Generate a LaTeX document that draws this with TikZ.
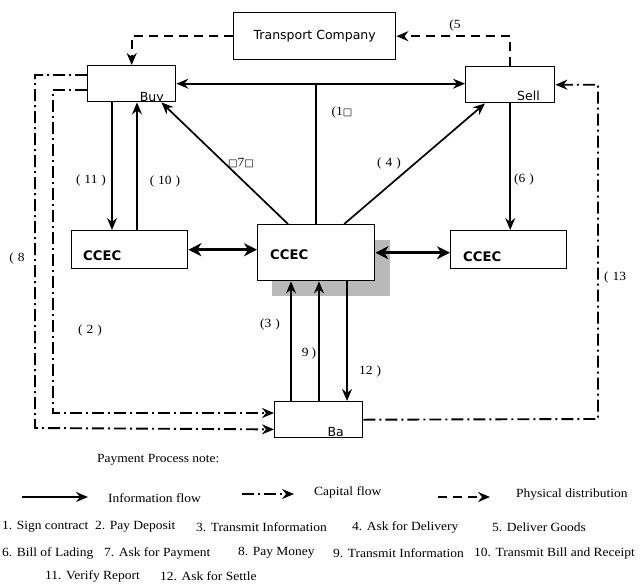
\documentclass[tikz,border=0pt]{standalone}
\usepackage{fontspec}
\setmainfont[FakeStretch=1.08]{Liberation Serif}
\newfontfamily\boxf{DejaVu Sans}
\usetikzlibrary{arrows.meta,calc}
\begin{document}
\begin{tikzpicture}[x=1pt,y=-1pt,
  box/.style={draw, line width=1.4pt, inner sep=0pt, anchor=north west, fill=white},
  boxtext/.style={font=\boxf\fontsize{12.5}{13}\selectfont, inner sep=0pt},
  ccectext/.style={font=\boxf\bfseries\fontsize{13.2}{13}\selectfont, inner sep=0pt, anchor=west},
  lbl/.style={font=\fontsize{12.5}{13}\selectfont, inner sep=0pt},
  note/.style={font=\fontsize{12.5}{13}\selectfont, inner sep=0pt, anchor=west},
  tip/.style={-{Stealth[length=12pt,width=10pt,inset=4pt]}},
  info/.style={line width=1.7pt, tip},
  infoboth/.style={line width=3.2pt, {Stealth[length=13pt,width=13pt,inset=4pt]}-{Stealth[length=13pt,width=13pt,inset=4pt]}},
  infotwo/.style={line width=1.7pt, {Stealth[length=12pt,width=10pt,inset=4pt]}-{Stealth[length=12pt,width=10pt,inset=4pt]}},
  phys/.style={line width=1.9pt, dash pattern=on 9pt off 6pt, tip},
  capital/.style={line width=1.9pt, dash pattern=on 12pt off 4pt on 2pt off 4pt, tip}
]
\useasboundingbox (0,0) rectangle (644,584);

% shadow of the central CCEC box
\fill[gray!55] (272,240) rectangle (390,296);

% boxes
\node[box, minimum width=162pt, minimum height=47pt] (tc) at (233,12) {};
\node[boxtext] (tctext) at (tc.center) {Transport Company};
\node[box, minimum width=88pt, minimum height=36pt] (buy) at (87,65) {};
\node[box, minimum width=89pt, minimum height=36pt] (sell) at (465,66) {};
\node[box, minimum width=116pt, minimum height=38pt] (lc) at (71,230) {};
\node[box, minimum width=117pt, minimum height=56pt] (cc) at (257,224) {};
\node[box, minimum width=116pt, minimum height=38pt] (rc) at (450,230) {};
\node[box, minimum width=88pt, minimum height=36pt] (ba) at (274,401) {};

\begin{scope}
  \clip (buy.north west) rectangle ($(buy.south east)+(0,-1)$);
  \node[boxtext, anchor=base east] (buytext) at (164,101) {Buy};
\end{scope}
\begin{scope}
  \clip (sell.north west) rectangle ($(sell.south east)+(0,-1)$);
  \node[boxtext, anchor=base east] (selltext) at (540,100) {Sell};
\end{scope}
\begin{scope}
  \clip (ba.north west) rectangle ($(ba.south east)+(0,-1)$);
  \node[boxtext, anchor=base east] (batext) at (344,436) {Ba};
\end{scope}
\node[ccectext] (lctext) at (83,256) {CCEC};
\node[ccectext] (cctext) at (270,255) {CCEC};
\node[ccectext] (rctext) at (463,257) {CCEC};

% physical distribution
\draw[phys] (tc.west) -| (buy.north);
\draw[phys] (sell.north) |- (tc.east);

% information flow
\draw[infotwo] (buy.east) -- (buy.east -| sell.west);
\coordinate (top1) at (cc.north |- buy.east);
\draw[line width=1.7pt] (cc.north) -- (top1);
\coordinate (a7) at ($(cc.north west)+(31,0)$);
\coordinate (b7) at ($(buy.south east)+(-15,0)$);
\draw[info] (a7) -- (b7);
\coordinate (a4) at ($(cc.north)+(28,0)$);
\coordinate (b4) at ($(sell.south west)+(20,0)$);
\draw[info] (a4) -- (b4);
\draw[info] (sell.south) -- (sell.south |- rc.north);
\coordinate (a11) at ($(buy.south west)+(25,0)$);
\draw[info] (a11) -- (a11 |- lc.north);
\coordinate (a10) at ($(lc.north west)+(66,0)$);
\draw[info] (a10) -- (a10 |- buy.south);
\draw[infoboth] (lc.east) -- (lc.east -| cc.west);
\draw[infoboth] (cc.east) -- (cc.east -| rc.west);
\coordinate (a3) at ($(ba.north west)+(17,0)$);
\draw[info] (a3) -- (a3 |- cc.south);
\coordinate (a9) at ($(ba.north west)+(45,0)$);
\draw[info] (a9) -- (a9 |- cc.south);
\coordinate (a12) at ($(cc.south west)+(90,0)$);
\draw[info] (a12) -- (a12 |- ba.north);

% capital flow
\coordinate (s8) at ($(buy.north west)+(0,10)$);
\coordinate (k8) at (35,428);
\coordinate (e8) at ($(ba.south west)+(0,-9)$);
\draw[capital] (s8) -| (k8) -- (e8);
\coordinate (s2) at ($(buy.south west)+(0,-12)$);
\coordinate (k2) at (53,413);
\coordinate (e2) at ($(ba.north west)+(0,12)$);
\draw[capital] (s2) -| (k2) -- (e2);
\coordinate (k13) at (598,419);
\draw[capital] (ba.east) -- (k13) |- (sell.east);

% labels
\node[lbl] (l5) at (455,25) {(5};
\node[lbl] (l1) at (342,112) {(1{\boxf\fontsize{10}{10}\selectfont □}};
\node[lbl] (l7) at (241,163) {{\boxf\fontsize{10}{10}\selectfont □}7{\boxf\fontsize{10}{10}\selectfont □}};
\node[lbl] (l4) at (389,163) {(\hspace{4pt}4\hspace{4pt})};
\node[lbl] (l6) at (524,179) {(6\hspace{4pt})};
\node[lbl] (l11) at (91,180) {(\hspace{4pt}11\hspace{4pt})};
\node[lbl] (l10) at (165,181) {(\hspace{4pt}10\hspace{4pt})};
\node[lbl] (l8) at (17,258) {(\hspace{4pt}8};
\node[lbl] (l13) at (615,277) {(\hspace{4pt}13};
\node[lbl] (l2) at (90,330) {(\hspace{4pt}2\hspace{4pt})};
\node[lbl] (l3) at (270,324) {(3\hspace{4pt})};
\node[lbl] (l9) at (309,353) {9\hspace{3pt})};
\node[lbl] (l12) at (370,371) {12\hspace{4pt})};

% legend
\node[note] (pp) at (97,460) {Payment Process note:};
\coordinate (la1) at (22,497);
\coordinate (lb1) at (88,497);
\draw[info] (la1) -- (lb1);
\node[note] (t1) at (108,498) {Information flow};
\coordinate (la2) at (242,494);
\coordinate (lb2) at (294,494);
\draw[capital] (la2) -- (lb2);
\node[note] (t2) at (314,492) {Capital flow};
\coordinate (la3) at (438,497);
\coordinate (lb3) at (490,497);
\draw[phys] (la3) -- (lb3);
\node[note] (t3) at (516,495) {Physical distribution};

\node[note] (n1a) at (2,527) {1. Sign contract};
\node[note] (n1b) at (95,527) {2. Pay Deposit};
\node[note] (n1c) at (196,527) {3. Transmit Information};
\node[note] (n1d) at (352,527) {4. Ask for Delivery};
\node[note] (n1e) at (492,527) {5. Deliver Goods};
\node[note] (n2a) at (2,553) {6. Bill of Lading};
\node[note] (n2b) at (104,553) {7. Ask for Payment};
\node[note] (n2c) at (238,553) {8. Pay Money};
\node[note] (n2d) at (333,553) {9. Transmit Information};
\node[note] (n2e) at (474,553) {10. Transmit Bill and Receipt};
\node[note] (n3a) at (45,576) {11. Verify Report};
\node[note] (n3b) at (160,576) {12. Ask for Settle};
\end{tikzpicture}
\end{document}
